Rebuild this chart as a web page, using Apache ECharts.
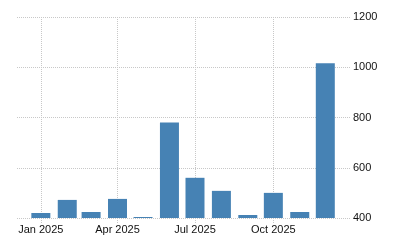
<!DOCTYPE html>
<html>
<head>
<meta charset="utf-8">
<script src="https://cdn.jsdelivr.net/npm/echarts@6/dist/echarts.min.js"></script>
<style>html,body{margin:0;padding:0;background:#fff}#c{width:400px;height:250px}</style>
</head>
<body>
<div id="c"></div>
<script>
var months = ['2025-01-01','2025-02-01','2025-03-01','2025-04-01','2025-05-01','2025-06-01','2025-07-01','2025-08-01','2025-09-01','2025-10-01','2025-11-01','2025-12-01'];
var values = [420, 472, 424, 476, 404, 780, 560, 508, 412, 500, 424, 1016];
var tickDates = ['2025-01-01','2025-04-01','2025-07-01','2025-10-01'];
var tickLabels = ['Jan 2025','Apr 2025','Jul 2025','Oct 2025'];
var yTicks = [400, 600, 800, 1000, 1200];

var DAY = 86400000;
function dayNum(d){ return Math.round((+new Date(d + 'T00:00:00Z') - +new Date('2025-01-01T00:00:00Z')) / DAY); }
var tickDays = tickDates.map(dayNum);
var labelMap = {};
tickDays.forEach(function(t, i){ labelMap[t] = tickLabels[i]; });

var chart = echarts.init(document.getElementById('c'), null, {renderer: 'canvas'});
chart.setOption({
  animation: false,
  grid: {left: 17, right: 50, top: 17, bottom: 32},
  xAxis: {
    type: 'value',
    min: dayNum('2024-12-04'),
    max: dayNum('2025-12-30'),
    axisLine: {show: false},
    axisTick: {show: true, length: 5, customValues: tickDays, lineStyle: {color: '#c8c8c8', type: 'dotted'}},
    axisLabel: {
      customValues: tickDays,
      color: '#111', fontSize: 11, fontFamily: 'Liberation Sans, Arial, sans-serif', margin: 6,
      formatter: function(v){ return labelMap[v] || ''; }
    },
    splitLine: {show: true, lineStyle: {color: '#c8c8c8', type: 'dotted', width: 1}}
  },
  yAxis: {
    type: 'value',
    position: 'right',
    min: yTicks[0], max: yTicks[yTicks.length-1], interval: 200,
    axisLine: {show: false},
    axisTick: {show: false},
    axisLabel: {color: '#111', fontSize: 11, fontFamily: 'Liberation Sans, Arial, sans-serif', margin: 3,
      formatter: function(v){ return String(v); }},
    splitLine: {show: true, lineStyle: {color: '#c8c8c8', type: 'dotted', width: 1}}
  },
  series: [{
    type: 'bar',
    barWidth: 19,
    itemStyle: {color: '#4682B4'},
    data: months.map(function(m, i){ return [dayNum(m), values[i]]; })
  }]
});
</script>
</body>
</html>
